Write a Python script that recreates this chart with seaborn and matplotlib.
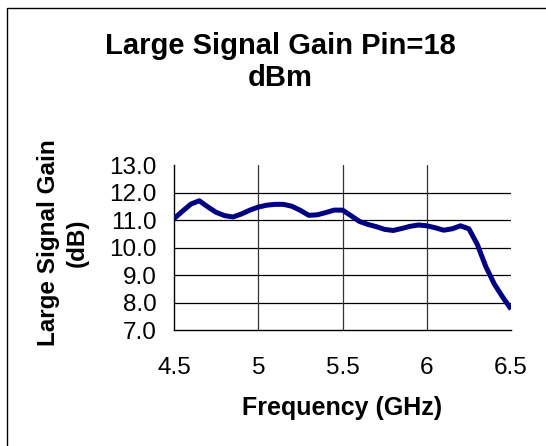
import numpy as np
import pandas as pd
import matplotlib
matplotlib.use("Agg")
import matplotlib.pyplot as plt
import seaborn as sns

# values
freq_ghz = [4.50, 4.55, 4.60, 4.65, 4.70, 4.75, 4.80, 4.85, 4.90, 4.95,
            5.00, 5.05, 5.10, 5.15, 5.20, 5.25, 5.30, 5.35, 5.40, 5.45,
            5.50, 5.55, 5.60, 5.65, 5.70, 5.75, 5.80, 5.85, 5.90, 5.95,
            6.00, 6.05, 6.10, 6.15, 6.20, 6.25, 6.30, 6.35, 6.40, 6.45, 6.50]
gain_db = [11.05, 11.32, 11.58, 11.70, 11.48, 11.28, 11.16, 11.11, 11.22, 11.36,
           11.47, 11.54, 11.57, 11.57, 11.50, 11.35, 11.17, 11.19, 11.27, 11.36,
           11.36, 11.16, 10.95, 10.84, 10.76, 10.66, 10.62, 10.69, 10.77, 10.82,
           10.79, 10.72, 10.63, 10.68, 10.79, 10.68, 10.11, 9.31, 8.68, 8.20, 7.76]
x_ticks = [4.5, 5, 5.5, 6, 6.5]
x_tick_labels = ["4.5", "5", "5.5", "6", "6.5"]
y_ticks = [7, 8, 9, 10, 11, 12, 13]

df = pd.DataFrame({"freq": freq_ghz, "gain": gain_db})

sns.set_style("white")
plt.rcParams['font.family'] = ['Liberation Sans', 'DejaVu Sans']
plt.rcParams['text.color'] = 'black'
plt.rcParams['axes.labelcolor'] = 'black'

fig = plt.figure(figsize=(5.46, 4.46), dpi=100)
ax = fig.add_axes([0.3187, 0.260, 0.6173, 0.370])

# outer chart border (only left/top fall inside the picture)
fig.patches.append(plt.Rectangle((7/546, -0.1), 1.2, 1 - 8/446 + 0.1,
                                 transform=fig.transFigure, fill=False,
                                 edgecolor="black", linewidth=1.0))

for yv in y_ticks[1:-1]:
    ax.axhline(yv, color="black", linewidth=0.9, zorder=1)
for xv in x_ticks[1:-1]:
    ax.axvline(xv, color="#333333", linewidth=0.9, zorder=1)

sns.lineplot(data=df, x="freq", y="gain", ax=ax, color="#000080",
             linewidth=3.6, zorder=3, solid_joinstyle="round",
             solid_capstyle="butt")

ax.set_xlim(4.5, 6.5)
ax.set_ylim(7, 13)
ax.set_xticks(x_ticks)
ax.set_xticklabels(x_tick_labels)
ax.set_yticks(y_ticks)
ax.set_yticklabels([f"{v:.1f}" for v in y_ticks])
ax.tick_params(direction="inout", length=9, width=1, colors="black",
               labelsize=17.5)
ax.tick_params(axis="y", pad=8)
ax.tick_params(axis="x", pad=15)

for side in ["top", "right"]:
    ax.spines[side].set_visible(False)
for side in ["left", "bottom"]:
    ax.spines[side].set_color("black")
    ax.spines[side].set_linewidth(1.0)

ax.set_xlabel("Frequency (GHz)", fontsize=18, fontweight="bold")
ax.xaxis.set_label_coords(0.50, -0.473)
ax.xaxis.label.set_va("center")
ax.set_ylabel("Large Signal Gain\n(dB)", fontsize=17.5, fontweight="bold",
              linespacing=1.3)
ax.yaxis.set_label_coords(-0.33, 0.527)
ax.yaxis.label.set_va("center")

fig.text(0.513, 0.861, "Large Signal Gain Pin=18\ndBm", ha="center",
         va="center", fontsize=21, fontweight="bold", linespacing=1.15)

fig.savefig("out.png", dpi=100)
